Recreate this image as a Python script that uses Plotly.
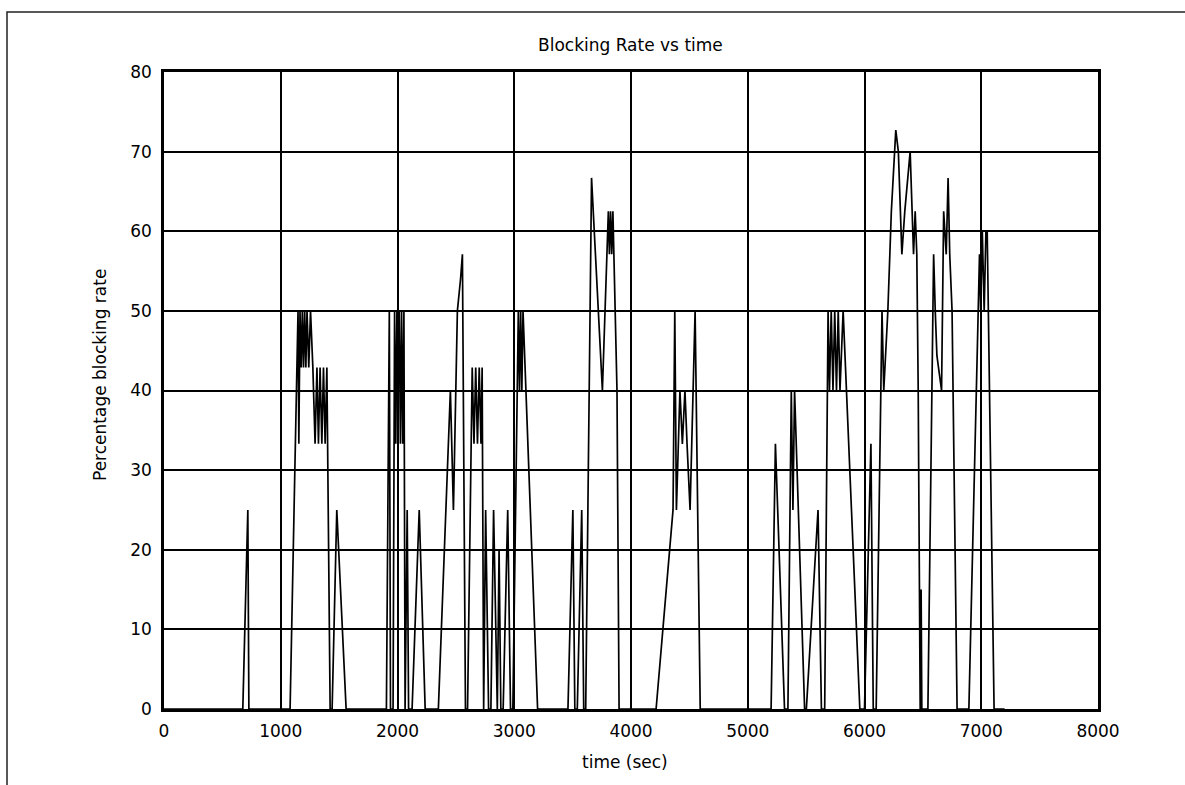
import plotly.graph_objects as go

# ---- data ----
time_sec = [
    0, 675, 718, 727,
    1080, 1148, 1155, 1165, 1175, 1185, 1195, 1205, 1215, 1225, 1240, 1255, 1275,
    1294, 1310, 1323, 1337, 1352, 1366, 1380, 1395, 1423, 1440, 1480, 1560,
    1905, 1930, 1940, 1962, 1975, 1985, 1995, 2005, 2015, 2025, 2035, 2045, 2055,
    2065, 2083, 2095, 2125, 2186, 2237,
    2350, 2453, 2479, 2513, 2540, 2556, 2582,
    2600, 2640, 2655, 2670, 2685, 2700, 2715, 2725, 2738, 2755, 2780, 2800, 2823,
    2855, 2870, 2885, 2905, 2944, 2968,
    2988, 3035, 3045, 3055, 3065, 3075, 3200,
    3460, 3502, 3519, 3540, 3578, 3595, 3612, 3662, 3755, 3806, 3815, 3825, 3835,
    3845, 3880, 3898,
    4215, 4360, 4375, 4389, 4419, 4440, 4462, 4480, 4506, 4549, 4593,
    5200, 5237, 5315, 5344, 5373, 5387, 5401, 5487, 5502, 5602, 5631, 5659, 5688,
    5700, 5715, 5730, 5745, 5760, 5775, 5790, 5817, 5845, 5960,
    6000, 6055, 6075, 6100, 6150, 6165, 6200, 6230, 6268, 6290, 6320, 6345, 6391,
    6420, 6434, 6448, 6460, 6477, 6485, 6491, 6543, 6592, 6606, 6620, 6660, 6678,
    6700, 6716, 6730, 6750, 6793,
    6894, 6966, 6985, 6995, 7009, 7025, 7040, 7051, 7110, 7200,
]
blocking_pct = [
    0, 0, 25, 0,
    0, 50, 33.3, 50, 42.9, 50, 42.9, 50, 42.9, 50, 42.9, 50, 42.9,
    33.3, 42.9, 33.3, 42.9, 33.3, 42.9, 33.3, 42.9, 0, 0, 25, 0,
    0, 50, 0, 0, 50, 33.3, 50, 40, 50, 33.3, 50, 33.3, 50,
    0, 25, 0, 0, 25, 0,
    0, 40, 25, 50, 54, 57.1, 0,
    0, 42.9, 33.3, 42.9, 33.3, 42.9, 33.3, 42.9, 0, 25, 0, 0, 25,
    0, 20, 0, 0, 25, 0,
    0, 50, 40, 50, 40, 50, 0,
    0, 25, 0, 0, 25, 0, 0, 66.7, 40, 62.5, 57.1, 62.5, 57.1,
    62.5, 40, 0,
    0, 25, 50, 25, 40, 33.3, 40, 33.3, 25, 50, 0,
    0, 33.3, 0, 0, 40, 25, 40, 0, 0, 25, 0, 0, 50,
    40, 50, 40, 50, 40, 50, 40, 50, 40, 0,
    0, 33.3, 0, 0, 50, 40, 50, 62.5, 72.7, 70, 57.1, 62.5, 70,
    57.1, 62.5, 57.1, 40, 0, 15, 0, 0, 57.1, 50, 44.4, 40, 62.5,
    57.1, 66.7, 57.1, 50, 0,
    0, 45, 57.1, 50, 60, 50, 60, 60, 0, 0,
]
x_ticks = [0, 1000, 2000, 3000, 4000, 5000, 6000, 7000, 8000]
y_ticks = [0, 10, 20, 30, 40, 50, 60, 70, 80]

# ---- layout geometry (pixels) ----
W, H = 1185, 785
L, R, T, B = 164, 1098, 72, 709

def px(xp):
    return (xp - L) / (R - L)

def py(yp):
    return (B - yp) / (B - T)

FONT = "DejaVu Sans, Liberation Sans, Arial, sans-serif"

fig = go.Figure()
fig.add_trace(go.Scatter(
    x=time_sec, y=blocking_pct, mode="lines",
    line=dict(color="black", width=1.7),
    showlegend=False, hoverinfo="x+y",
))

axis_common = dict(
    showgrid=True, gridcolor="black", gridwidth=2,
    showline=True, linecolor="black", linewidth=2.5, mirror=True,
    zeroline=False, ticks="",
    tickfont=dict(family=FONT, size=17, color="black"),
)
fig.update_xaxes(range=[0, 8000], tickvals=x_ticks,
                 ticktext=[str(v) for v in x_ticks], ticklabelstandoff=5,
                 **axis_common)
fig.update_yaxes(range=[0, 80], tickvals=y_ticks,
                 ticktext=[str(v) for v in y_ticks], ticklabelstandoff=6,
                 **axis_common)

fig.update_layout(
    width=W, height=H,
    margin=dict(l=L, r=W - R, t=T, b=H - B, autoexpand=False),
    plot_bgcolor="white", paper_bgcolor="white",
    annotations=[
        dict(text="Blocking Rate vs time", xref="paper", yref="paper",
             x=px(630), y=py(45), showarrow=False,
             xanchor="center", yanchor="middle",
             font=dict(family=FONT, size=17, color="black")),
        dict(text="time (sec)", xref="paper", yref="paper",
             x=px(625), y=py(762), showarrow=False,
             xanchor="center", yanchor="middle",
             font=dict(family=FONT, size=17, color="black")),
        dict(text="Percentage blocking rate", xref="paper", yref="paper",
             x=px(100), y=py(375), showarrow=False, textangle=-90,
             xanchor="center", yanchor="middle",
             font=dict(family=FONT, size=17, color="black")),
    ],
    shapes=[
        dict(type="rect", xref="paper", yref="paper",
             x0=px(7), x1=px(1195), y0=py(795), y1=py(12),
             line=dict(color="#222222", width=1.5), layer="below"),
    ],
)

fig.write_html(
    "out.html",
    config={"displayModeBar": False},
    post_script="document.body.style.margin='0';document.body.style.overflow='hidden';",
)
